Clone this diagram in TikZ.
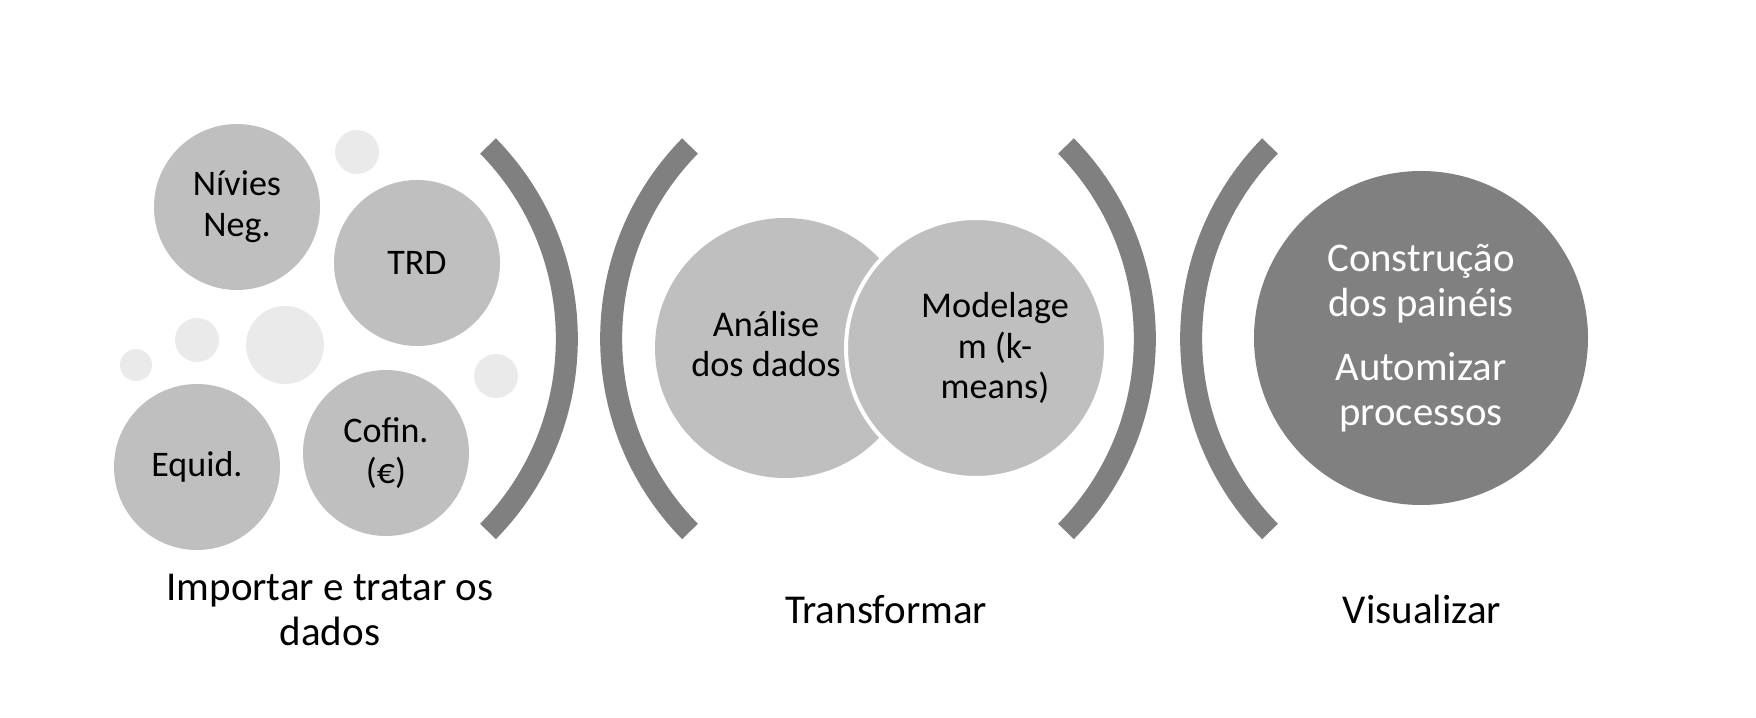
\documentclass[tikz,border=0pt]{standalone}
\usepackage{fontspec}
\setmainfont{Carlito}
\usetikzlibrary{calc}
\definecolor{discgray}{RGB}{191,191,191}
\definecolor{bubblegray}{RGB}{234,234,234}
\definecolor{bracketgray}{RGB}{128,128,128}

\tikzset{
  disc/.style={circle, fill=discgray, inner sep=0pt, minimum size=66.4pt, align=center, font=\fontsize{14.4}{16.4}\selectfont},
  bubble/.style={circle, fill=bubblegray, inner sep=0pt},
  bigdisc/.style={circle, fill=discgray, inner sep=0pt, minimum size=104pt},
  darkdisc/.style={circle, fill=bracketgray, inner sep=0pt, minimum size=133.6pt, align=center, text=white, font=\fontsize{16.3}{18}\selectfont},
  bracket/.style={draw=bracketgray, line width=8.8pt},
  disctext/.style={align=center, inner sep=0pt, font=\fontsize{14.5}{16.2}\selectfont},
  steplabel/.style={align=center, inner sep=0pt, font=\fontsize{16.4}{18}\selectfont},
}

\begin{document}
\begin{tikzpicture}[x=0.4pt,y=0.4pt,yscale=-1,xscale=1]
    \useasboundingbox (0,0) rectangle (1756,718);

    %Shape: Circle (small bubbles)
    \node [bubble, minimum size=17.6pt] (bubA) at (357,152) {};
    \node [bubble, minimum size=17.6pt] (bubB) at (197,340) {};
    \node [bubble, minimum size=31.2pt] (bubC) at (285,345) {};
    \node [bubble, minimum size=12.8pt] (bubD) at (136,365) {};
    \node [bubble, minimum size=17.6pt] (bubE) at (496,376) {};

    %Shape: Circle (data sources)
    \node [disc] (nivies) at (237,207) {Nívies\\Neg.};
    \node [disc] (trd) at (417,263) {TRD};
    \node [disc] (equid) at (197,467) {Equid.};
    \node [disc] (cofin) at (386,453) {Cofin.\\(€)};

    %Shape: Arc
    \draw [bracket] (488,146) arc[start angle=-44.5, end angle=44.5, radius=275];
    %Shape: Arc
    \draw [bracket] (690,146) arc[start angle=224.5, end angle=135.5, radius=275];

    %Shape: Circle
    \node [bigdisc] (analise) at (785,348) {};
    %Shape: Circle
    \node [bigdisc, draw=white, line width=1.6pt] (modelagem) at (976,348) {};
    % Text Node
    \node [disctext] (analisetxt) at ($(analise)+(-19,-4)$) {Análise\\dos dados};
    % Text Node
    \node [disctext] (modelagemtxt) at ($(modelagem)+(19,0)$) {Modelage\\m (k-\\means)};

    %Shape: Arc
    \draw [bracket] (1066,146) arc[start angle=-44.5, end angle=44.5, radius=275];
    %Shape: Arc
    \draw [bracket] (1270,146) arc[start angle=224.5, end angle=135.5, radius=275];

    %Shape: Circle
    \node [darkdisc] (visual) at (1421,338) {Construção\\dos painéis\\[7.6pt]Automizar\\processos};

    % Text Node
    \node [steplabel] (importar) at (330,610) {Importar e tratar os\\dados};
    % Text Node
    \node [steplabel, anchor=base] (transformar) at (886,624) {Transformar};
    % Text Node
    \node [steplabel, anchor=base] (visualizar) at (1422,624) {Visualizar};

\end{tikzpicture}
\end{document}
